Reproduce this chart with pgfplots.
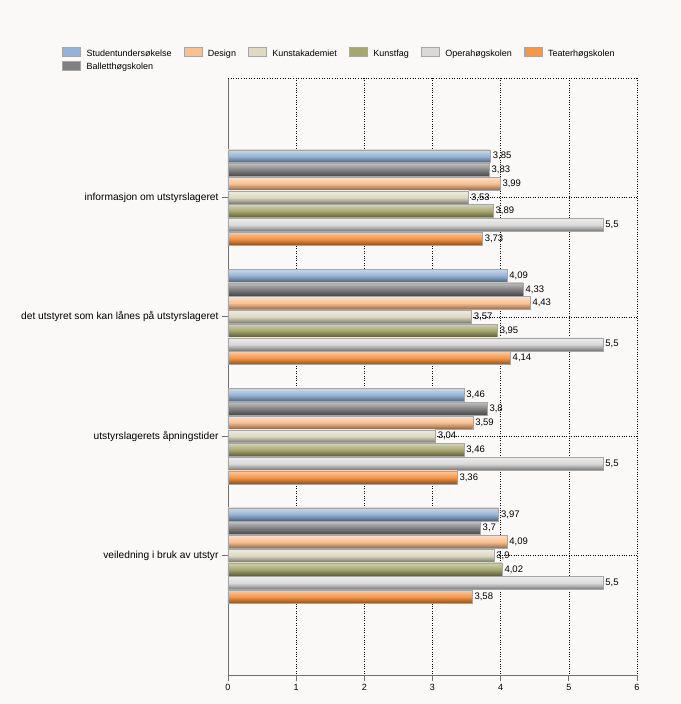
\documentclass[border=0pt]{standalone}
\usepackage{pgfplots}
\pgfplotsset{compat=1.18}
\usepackage{fontspec}
\setmainfont{Liberation Sans}
\definecolor{bgc}{HTML}{FAF9F7}
\definecolor{cstud}{HTML}{95B3D7}
\definecolor{cball}{HTML}{808080}
\definecolor{cdes}{HTML}{FAC090}
\definecolor{ckak}{HTML}{DDD9C3}
\definecolor{ckf}{HTML}{A6A66E}
\definecolor{cop}{HTML}{D9D9D9}
\definecolor{cteat}{HTML}{F79646}
\definecolor{axc}{HTML}{707070}
\tikzset{shadebar/.style={draw=gray!70, top color=#1!50!white, bottom color=#1!55!black, middle color=#1}}
\begin{document}
\begin{tikzpicture}[x=1pt,y=1pt]
\fill[bgc] (0,0) rectangle (680,704);
\begin{axis}[
  at={(228pt,29pt)}, anchor=south west,
  scale only axis, width=409pt, height=597pt,
  xmin=0, xmax=6, ymin=0, ymax=5, y dir=reverse,
  xbar, bar width=0.108, bar shift=0pt,
  axis lines=left, axis line style={-, draw=axc, line width=0.8pt},
  xtick={0,1,2,3,4,5,6}, ytick={1,2,3,4},
  yticklabels={informasjon om utstyrslageret, det utstyret som kan lånes på utstyrslageret, utstyrslagerets åpningstider, veiledning i bruk av utstyr},
  tick align=outside, major tick length=6pt,
  tick style={draw=axc, line width=0.8pt},
  xmajorgrids, ymajorgrids,
  grid style={black, dotted, line width=0.6pt},
  tick label style={font=\fontsize{10.2}{12}\selectfont, text=black},
  xticklabel style={font=\fontsize{9}{11}\selectfont},
  /pgf/number format/assume math mode=true,
  /pgf/number format/use comma,
  nodes near coords,
  every node near coord/.append style={font=\fontsize{9.5}{11}\selectfont, anchor=west, xshift=-1pt, fill=none},
  legend columns=6,
  legend style={at={(-0.406,1.055)}, anchor=north west, draw=none, fill=none,
    font=\fontsize{9}{10}\selectfont, row sep=1.5pt, inner xsep=0pt,
    /tikz/every even column/.append style={column sep=10pt}},
  legend cell align=left,
  legend image code/.code={\draw[#1] (0pt,-3pt) rectangle (18pt,6pt); \path (22pt,0pt);},
]
\addlegendimage{draw=gray!70, fill=cstud}
\addlegendimage{draw=gray!70, fill=cdes}
\addlegendimage{draw=gray!70, fill=ckak}
\addlegendimage{draw=gray!70, fill=ckf}
\addlegendimage{draw=gray!70, fill=cop}
\addlegendimage{draw=gray!70, fill=cteat}
\addlegendimage{draw=gray!70, fill=cball}
\legend{Studentundersøkelse, Design, Kunstakademiet, Kunstfag, Operahøgskolen, Teaterhøgskolen, Balletthøgskolen}
% Studentundersøkelse
\addplot[shadebar=cstud, forget plot] coordinates {(3.85,0.655)};
\addplot[shadebar=cstud, forget plot] coordinates {(4.09,1.655)};
\addplot[shadebar=cstud, forget plot] coordinates {(3.46,2.655)};
\addplot[shadebar=cstud, forget plot] coordinates {(3.97,3.655)};
% Balletthøgskolen
\addplot[shadebar=cball, forget plot] coordinates {(3.83,0.77)};
\addplot[shadebar=cball, forget plot] coordinates {(4.33,1.77)};
\addplot[shadebar=cball, forget plot] coordinates {(3.8,2.77)};
\addplot[shadebar=cball, forget plot] coordinates {(3.7,3.77)};
% Design
\addplot[shadebar=cdes, forget plot] coordinates {(3.99,0.885)};
\addplot[shadebar=cdes, forget plot] coordinates {(4.43,1.885)};
\addplot[shadebar=cdes, forget plot] coordinates {(3.59,2.885)};
\addplot[shadebar=cdes, forget plot] coordinates {(4.09,3.885)};
% Kunstakademiet
\addplot[shadebar=ckak, forget plot] coordinates {(3.53,1)};
\addplot[shadebar=ckak, forget plot] coordinates {(3.57,2)};
\addplot[shadebar=ckak, forget plot] coordinates {(3.04,3)};
\addplot[shadebar=ckak, forget plot] coordinates {(3.9,4)};
% Kunstfag
\addplot[shadebar=ckf, forget plot] coordinates {(3.89,1.115)};
\addplot[shadebar=ckf, forget plot] coordinates {(3.95,2.115)};
\addplot[shadebar=ckf, forget plot] coordinates {(3.46,3.115)};
\addplot[shadebar=ckf, forget plot] coordinates {(4.02,4.115)};
% Operahøgskolen
\addplot[shadebar=cop, forget plot] coordinates {(5.5,1.23)};
\addplot[shadebar=cop, forget plot] coordinates {(5.5,2.23)};
\addplot[shadebar=cop, forget plot] coordinates {(5.5,3.23)};
\addplot[shadebar=cop, forget plot] coordinates {(5.5,4.23)};
% Teaterhøgskolen
\addplot[shadebar=cteat, forget plot] coordinates {(3.73,1.345)};
\addplot[shadebar=cteat, forget plot] coordinates {(4.14,2.345)};
\addplot[shadebar=cteat, forget plot] coordinates {(3.36,3.345)};
\addplot[shadebar=cteat, forget plot] coordinates {(3.58,4.345)};
\draw[black, dotted, line width=0.6pt] (axis cs:0,0) -- (axis cs:6,0) -- (axis cs:6,5);
\end{axis}
\end{tikzpicture}
\end{document}
